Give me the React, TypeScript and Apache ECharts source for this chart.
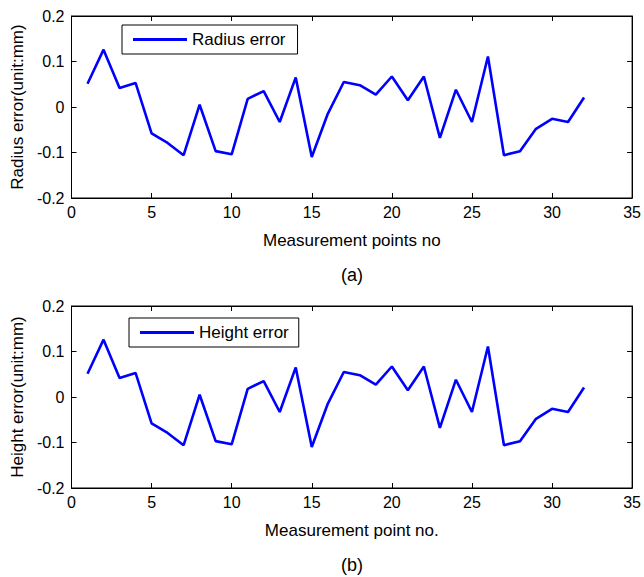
import React, { useEffect, useRef } from "react";
import * as echarts from "echarts";

const pointNo = [1, 2, 3, 4, 5, 6, 7, 8, 9, 10, 11, 12, 13, 14, 15, 16, 17, 18, 19, 20, 21, 22, 23, 24, 25, 26, 27, 28, 29, 30, 31, 32];
const radiusError = [0.051, 0.126, 0.042, 0.053, -0.058, -0.079, -0.106, 0.005, -0.097, -0.104, 0.018, 0.035, -0.033, 0.065, -0.110, -0.015, 0.055, 0.048, 0.027, 0.067, 0.015, 0.067, -0.068, 0.038, -0.033, 0.111, -0.106, -0.097, -0.048, -0.026, -0.033, 0.021];
const heightError = [0.051, 0.126, 0.042, 0.053, -0.058, -0.079, -0.106, 0.005, -0.097, -0.104, 0.018, 0.035, -0.033, 0.065, -0.110, -0.015, 0.055, 0.048, 0.027, 0.067, 0.015, 0.067, -0.068, 0.038, -0.033, 0.111, -0.106, -0.097, -0.048, -0.026, -0.033, 0.021];

const xTitles = ["Measurement points no", "Measurement point no."];
const yTitles = ["Radius error(unit:mm)", "Height error(unit:mm)"];
const seriesNames = ["Radius error", "Height error"];
const panelLabels = ["(a)", "(b)"];

const FONT = "'Liberation Sans', Arial, Helvetica, sans-serif";

export default function App() {
  const ref = useRef<HTMLDivElement>(null);
  useEffect(() => {
    if (!ref.current) return;
    const chart = echarts.init(ref.current, null, { renderer: "svg" });
    const tops = [16, 306];
    const gridLeft = 71.5;
    const gridW = 565;
    const gridH = 182;
    const grids = tops.map((t) => ({
      left: gridLeft,
      top: t,
      width: gridW,
      height: gridH,
      show: true,
      borderColor: "#000",
      borderWidth: 1,
      backgroundColor: "#fff",
      containLabel: false,
    }));
    const lineAx = { show: true, onZero: false, lineStyle: { color: "#000", width: 1 } };
    const tickIn = { show: true, inside: true, length: 5, lineStyle: { color: "#000" } };
    const xAxes: any[] = [];
    const yAxes: any[] = [];
    [0, 1].forEach((i) => {
      xAxes.push({
        type: "value",
        gridIndex: i,
        min: 0,
        max: 35,
        interval: 5,
        position: "bottom",
        name: xTitles[i],
        nameLocation: "middle",
        nameGap: 34,
        nameTextStyle: { color: "#000", fontSize: 17, fontFamily: FONT },
        axisLine: lineAx,
        axisTick: tickIn,
        axisLabel: { color: "#000", fontSize: 16, fontFamily: FONT, margin: 6, showMinLabel: true, showMaxLabel: true },
        splitLine: { show: false },
      });
      xAxes.push({
        type: "value",
        gridIndex: i,
        min: 0,
        max: 35,
        interval: 5,
        position: "top",
        axisLine: lineAx,
        axisTick: tickIn,
        axisLabel: { show: false },
        splitLine: { show: false },
      });
      yAxes.push({
        type: "value",
        gridIndex: i,
        min: -0.2,
        max: 0.2,
        interval: 0.1,
        position: "left",
        name: yTitles[i],
        nameLocation: "middle",
        nameGap: 40,
        nameTextStyle: { color: "#000", fontSize: 17, fontFamily: FONT },
        axisLine: lineAx,
        axisTick: tickIn,
        axisLabel: { color: "#000", fontSize: 16, fontFamily: FONT, margin: 7, showMinLabel: true, showMaxLabel: true },
        splitLine: { show: false },
      });
      yAxes.push({
        type: "value",
        gridIndex: i,
        min: -0.2,
        max: 0.2,
        interval: 0.1,
        position: "right",
        axisLine: lineAx,
        axisTick: tickIn,
        axisLabel: { show: false },
        splitLine: { show: false },
      });
    });
    const values = [radiusError, heightError];
    const series = [0, 1].map((i) => ({
      type: "line",
      name: seriesNames[i],
      xAxisIndex: i * 2,
      yAxisIndex: i * 2,
      data: pointNo.map((p, k) => [p, values[i][k]]),
      showSymbol: false,
      symbol: "none",
      lineStyle: { color: "#0000ff", width: 2.6 },
      itemStyle: { color: "#0000ff" },
    }));
    const legendBase = {
      orient: "horizontal",
      icon: "rect",
      itemWidth: 54,
      itemHeight: 3,
      borderColor: "#000",
      borderWidth: 1,
      backgroundColor: "#fff",
      textStyle: { color: "#000", fontSize: 17, fontFamily: FONT },
      selectedMode: false,
    };
    chart.setOption({
      animation: false,
      backgroundColor: "#fff",
      grid: grids,
      xAxis: xAxes,
      yAxis: yAxes,
      legend: [
        { ...legendBase, data: [seriesNames[0]], left: 122, top: 25, padding: [6, 12, 6, 11] },
        { ...legendBase, data: [seriesNames[1]], left: 129, top: 318, padding: [6, 10, 6, 11] },
      ],
      series,
      graphic: [
        {
          type: "text",
          x: 352,
          y: 275,
          style: { text: panelLabels[0], fill: "#000", font: `18px ${FONT}`, textAlign: "center", textVerticalAlign: "middle" },
        },
        {
          type: "text",
          x: 352,
          y: 565,
          style: { text: panelLabels[1], fill: "#000", font: `18px ${FONT}`, textAlign: "center", textVerticalAlign: "middle" },
        },
      ],
    });
    return () => chart.dispose();
  }, []);
  return (
    <div
      ref={ref}
      style={{ position: "fixed", left: 0, top: 0, width: 644, height: 577, background: "#fff" }}
    />
  );
}
